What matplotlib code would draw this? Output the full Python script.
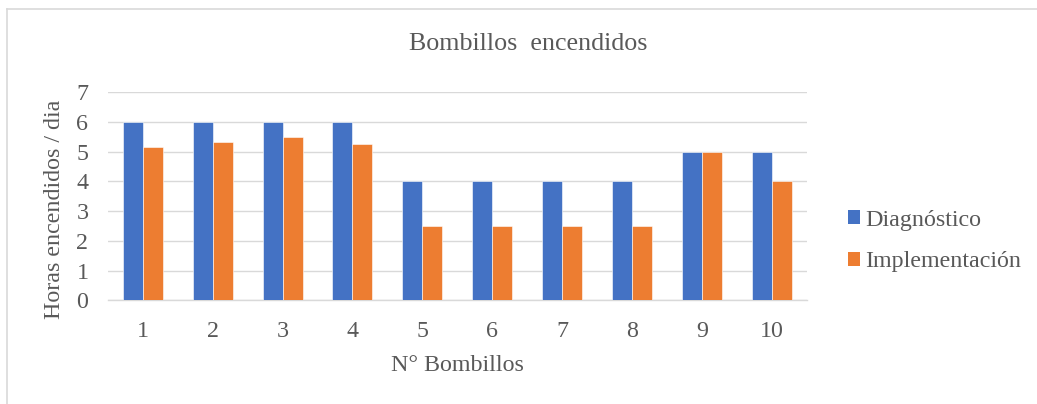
import matplotlib
matplotlib.use("Agg")
import matplotlib.pyplot as plt
import numpy as np
from matplotlib.lines import Line2D
from matplotlib.patches import Patch

# data
bombillos = ["1", "2", "3", "4", "5", "6", "7", "8", "9", "10"]
diagnostico = [6, 6, 6, 6, 4, 4, 4, 4, 5, 5]
implementacion = [5.15, 5.33, 5.5, 5.25, 2.5, 2.5, 2.5, 2.5, 5, 4]

BLUE = "#4472C4"
ORANGE = "#ED7D31"
TEXT = "#595959"
GRID = "#D9D9D9"
FS = 17.3

plt.rcParams["font.family"] = ["Liberation Serif", "DejaVu Serif"]

fig = plt.figure(figsize=(10.37, 4.04), dpi=100)
ax = fig.add_axes([0.104, 0.2567, 0.674, 0.5148])

x = np.arange(len(bombillos))
w = 0.286
ax.bar(x - w / 2, diagnostico, width=w, color=BLUE, edgecolor="white",
       linewidth=0.4, zorder=3, label="Diagnóstico")
ax.bar(x + w / 2, implementacion, width=w, color=ORANGE, edgecolor="white",
       linewidth=0.4, zorder=3, label="Implementación")

ax.set_xlim(-0.5, len(bombillos) - 0.5)
ax.set_ylim(0, 7)
ax.set_yticks(range(8))
ax.set_xticks(x)
ax.set_xticklabels(bombillos)
ax.grid(axis="y", color=GRID, linewidth=1.0, zorder=0)
for s in ("top", "right", "left"):
    ax.spines[s].set_visible(False)
ax.spines["bottom"].set_color(GRID)
ax.spines["bottom"].set_linewidth(1.0)
ax.tick_params(axis="both", length=0, labelsize=FS, colors=TEXT)
ax.tick_params(axis="y", pad=14)
ax.tick_params(axis="x", pad=15)

ax.set_xlabel("N° Bombillos", fontsize=FS, color=TEXT)
ax.set_ylabel("Horas encendidos / dia", fontsize=FS, color=TEXT)
ax.xaxis.set_label_coords(0.5, -0.3125)
ax.yaxis.set_label_coords(-0.0758, 0.4375)
for lab in (ax.xaxis.label, ax.yaxis.label):
    lab.set_verticalalignment("center")

fig.text(0.509, 0.89, "Bombillos  encendidos", ha="center", va="center",
         fontsize=18.7, color=TEXT)

handles = [Patch(facecolor=BLUE, edgecolor="none"),
           Patch(facecolor=ORANGE, edgecolor="none")]
fig.legend(handles, ["Diagnóstico", "Implementación"],
           loc="center left", bbox_to_anchor=(0.8176, 0.403),
           frameon=False, fontsize=FS, labelcolor=TEXT,
           handlelength=0.52, handleheight=0.52, handletextpad=0.22,
           labelspacing=0.85, borderpad=0, borderaxespad=0)

# outer chart border (only top and left visible in the crop)
fig.add_artist(Line2D([7 / 1037, 7 / 1037], [0, 1 - 9 / 404],
                      transform=fig.transFigure, color=GRID, linewidth=1.2))
fig.add_artist(Line2D([7 / 1037, 1], [1 - 9 / 404, 1 - 9 / 404],
                      transform=fig.transFigure, color=GRID, linewidth=1.2))

fig.savefig("out.png", dpi=100)
